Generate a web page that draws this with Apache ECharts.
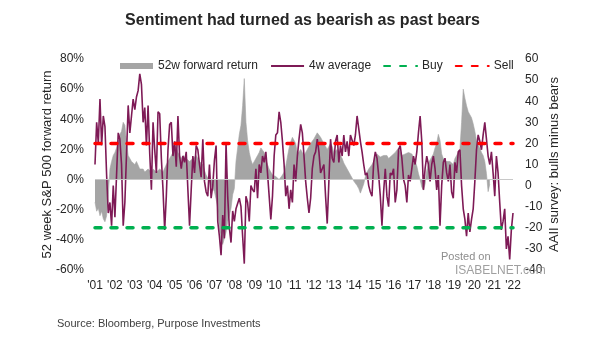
<!DOCTYPE html>
<html>
<head>
<meta charset="utf-8">
<script src="https://cdn.jsdelivr.net/npm/echarts@6/dist/echarts.min.js"></script>
<style>
  html, body { margin: 0; padding: 0; background: #fff; }
  #chart { width: 605px; height: 341px; }
</style>
</head>
<body>
<div id="chart"></div>
<script>
// Time span (monthly readings, first value = Jan of startYear)
const startYear = 2001;
const endYear = 2022;

// AAII survey, bulls minus bears, 4-week average (one reading per month)
const aaii4w = [
  10, 30, 20, 41, 19, 33, 28, 5, -13, -8, -19, 0,        // 2001
  -15, 5, 25, 22, 10, -19, -8, 15, 38, 25, 33, 41,       // 2002
  36, 42, 45, 53, 48, 30, 37, 19, 38, 15, -2, 30,        // 2003
  17, 6, 35, 34, 13, -2, -21, -5, 17, 29, 30, 14,        // 2004
  21, 9, 33, 14, 8, 14, 11, 16, -2, -19, -2, 14,         // 2005
  6, 19, 17, 10, 4, 22, 2, -3, -5, 10, -6, 0,            // 2006
  12, 19, -17, -24, -33, -14, -25, 20, -5, -20, -27, -12, // 2007
  -17, -11, -11, -6, -10, -24, -37, -5, -8, -17, 0, -2,  // 2008
  -3, 8, -6, 10, 6, 14, 11, 16, 6, -5, -16, -5,          // 2009
  14, 24, 25, 35, 30, 21, 10, -5, 0, -11, -2, -8,        // 2010
  10, 2, 14, 22, 29, 25, 14, 2, -6, -13, -6, 8,          // 2011
  14, 16, 22, 16, 6, 8, 10, -5, -18, 2, 22, 13,          // 2012
  11, 21, 24, 11, 19, 14, 24, 16, 21, 14, 24, 24,        // 2013
  19, 24, 33, 27, 21, 16, 10, 5, 6, 0, -3, -5,           // 2014
  11, 16, 13, 5, -5, -19, -3, 8, -5, -10, 6, 5,          // 2015
  8, -8, -2, 17, 19, 13, 3, 0, -8, 5, 2, 8,              // 2016
  14, 10, 16, 25, 33, 21, -2, 8, 14, 10, 2, 10,          // 2017
  14, 8, -2, 5, -19, 0, 11, 13, 6, 2, 10, -3,            // 2018
  -6, 11, 6, 16, 17, 0, -11, -16, -24, -13, -22, -16,    // 2019
  -11, 2, 17, 24, 21, 17, 24, 30, 22, 14, 10, 16,        // 2020
  6, -5, 14, 6, -8, -21, -17, -11, -30, -24, -35, -21,   // 2021
  -13                                                    // 2022
];

// S&P 500 52-week forward return, % (one reading per month)
const fwdReturn52w = [
  -15, -21, -19, -24, -21, -26, -28, -24, -10, 7, 12, 16, // 2001
  18, 21, 25, 30, 32, 38, 36, 25, 16, 14, 12, 12,         // 2002
  10, 12, 11, 7, 6, 7, 5, 6, 7, 6, 5, 7,                  // 2003
  6, 5, 6, 7, 6, 5, 6, 10, 12, 14, 16, 18,                // 2004
  23, 21, 18, 16, 14, 16, 15, 14, 13, 12, 13, 14,         // 2005
  15, 16, 14, 12, 11, 10, 6, 3, 1, -1, -4, -6,            // 2006
  -8, -13, -19, -32, -41, -43, -39, -35, -28, -24, -19, -10, // 2007
  -6, 12, 21, 30, 36, 49, 67, 38, 26, 18, 13, 10,         // 2008
  12, 14, 16, 18, 21, 22, 18, 13, 10, 7, 5, 3,            // 2009
  3, 2, 1, 0, 1, 3, 5, 9, 15, 21, 25, 28,                 // 2010
  27, 24, 17, 18, 20, 18, 16, 18, 20, 22, 24, 25,         // 2011
  27, 29, 31, 30, 28, 26, 24, 22, 20, 22, 24, 22,         // 2012
  18, 17, 20, 20, 16, 14, 11, 9, 7, 5, 3, 1,              // 2013
  -1, -2, -4, -6, -9, -8, -3, 2, 5, 7, 7, 10,             // 2014
  12, 15, 17, 18, 15, 16, 16, 17, 16, 14, 15, 16,         // 2015
  17, 18, 18, 21, 20, 16, 17, 17, 18, 18, 18, 17,         // 2016
  15, 12, 9, 4, 0, -5, -7, -3, 6, 11, 13, 15,             // 2017
  17, 21, 24, 30, 26, 17, 14, 13, 12, 12, 12, 11,         // 2018
  10, 14, 16, 17, 20, 38, 60, 54, 49, 45, 43, 41,         // 2019
  37, 32, 26, 25, 21, 18, 16, 12, 4, -8, -3               // 2020
];

// Signal thresholds on the AAII scale
const buyLevel = -20;
const sellLevel = 20;

// Series names
const names = {
  fwd: '52w forward return',
  aaii: '4w average',
  buy: 'Buy',
  sell: 'Sell'
};

const FONT = 'Liberation Sans, Arial, sans-serif';
const TEXT = '#262626';
const toPairs = arr => arr.map((v, i) => [startYear + i / 12, v]);
// legend entries for line series: keep the line, hide the marker dot
const lineOnly = name => ({ name, itemStyle: { opacity: 0 } });

const chart = echarts.init(document.getElementById('chart'), null, { renderer: 'canvas' });

chart.setOption({
  animation: false,
  backgroundColor: '#ffffff',
  textStyle: { fontFamily: FONT },
  title: {
    text: 'Sentiment had turned as bearish as past bears',
    left: 'center',
    top: 8,
    textStyle: { fontFamily: FONT, fontSize: 16, fontWeight: 'bold', color: TEXT }
  },
  legend: {
    left: 115,
    top: 55,
    itemWidth: 33,
    itemHeight: 6,
    itemGap: 12,
    textStyle: { fontFamily: FONT, fontSize: 12, color: TEXT },
    data: [
      { name: names.fwd, icon: 'rect', itemStyle: { color: '#a5a5a5', opacity: 1 } },
      lineOnly(names.aaii),
      lineOnly(names.buy),
      lineOnly(names.sell)
    ]
  },
  grid: { left: 95, right: 92, top: 59, bottom: 71, containLabel: false },
  xAxis: {
    type: 'value',
    min: startYear,
    max: endYear,
    interval: 1,
    axisLine: { show: false },
    axisTick: { show: false },
    splitLine: { show: false },
    axisLabel: {
      margin: 10,
      fontFamily: FONT,
      fontSize: 12,
      color: TEXT,
      formatter: v => "'" + String(v).slice(2)
    }
  },
  yAxis: [
    {
      type: 'value',
      min: -60,
      max: 80,
      interval: 20,
      name: '52 week S&P 500 forward return',
      nameLocation: 'middle',
      nameGap: 41,
      nameMoveOverlap: false,
      nameTextStyle: { fontFamily: FONT, fontSize: 13, color: TEXT },
      axisLine: { show: false },
      axisTick: { show: false },
      splitLine: { show: false },
      axisLabel: { margin: 11, fontFamily: FONT, fontSize: 12, color: TEXT, formatter: '{value}%' }
    },
    {
      type: 'value',
      min: -40,
      max: 60,
      interval: 10,
      name: 'AAII survey: bulls minus bears',
      nameLocation: 'middle',
      nameGap: 35,
      nameMoveOverlap: false,
      nameTextStyle: { fontFamily: FONT, fontSize: 13, color: TEXT },
      axisLine: { show: false },
      axisTick: { show: false },
      splitLine: { show: false },
      axisLabel: { margin: 12, fontFamily: FONT, fontSize: 12, color: TEXT }
    }
  ],
  series: [
    {
      name: names.fwd,
      type: 'line',
      yAxisIndex: 0,
      data: toPairs(fwdReturn52w),
      symbol: 'none',
      lineStyle: { width: 0.6, color: '#a5a5a5' },
      itemStyle: { color: '#a5a5a5' },
      areaStyle: { color: '#a5a5a5', opacity: 1 },
      z: 1,
      markLine: {
        silent: true,
        symbol: 'none',
        label: { show: false },
        lineStyle: { color: '#c8c8c8', width: 1, type: 'solid' },
        data: [{ yAxis: 0 }]
      }
    },
    {
      name: names.aaii,
      type: 'line',
      yAxisIndex: 1,
      data: toPairs(aaii4w),
      symbol: 'none',
      lineStyle: { width: 1.6, color: '#7e1a56' },
      itemStyle: { color: '#7e1a56' },
      z: 3
    },
    {
      name: names.buy,
      type: 'line',
      yAxisIndex: 1,
      data: [[startYear, buyLevel], [endYear, buyLevel]],
      symbol: 'none',
      lineStyle: { width: 3.5, color: '#00b050', type: [6, 10], cap: 'round' },
      itemStyle: { color: '#00b050' },
      z: 4
    },
    {
      name: names.sell,
      type: 'line',
      yAxisIndex: 1,
      data: [[startYear, sellLevel], [endYear, sellLevel]],
      symbol: 'none',
      lineStyle: { width: 3.5, color: '#ff0000', type: [6, 10], cap: 'round' },
      itemStyle: { color: '#ff0000' },
      z: 4
    }
  ],
  graphic: [
    {
      type: 'text',
      left: 57,
      top: 318,
      style: { text: 'Source: Bloomberg, Purpose Investments', font: '11px ' + FONT, fill: '#404040' }
    },
    {
      type: 'text',
      left: 441,
      top: 251,
      z: 10,
      style: { text: 'Posted on', font: '11px ' + FONT, fill: '#8c8c8c' }
    },
    {
      type: 'text',
      left: 455,
      top: 265,
      z: 10,
      style: { text: 'ISABELNET.com', font: '12px ' + FONT, fill: '#a0a0a0' }
    }
  ]
});
</script>
</body>
</html>
